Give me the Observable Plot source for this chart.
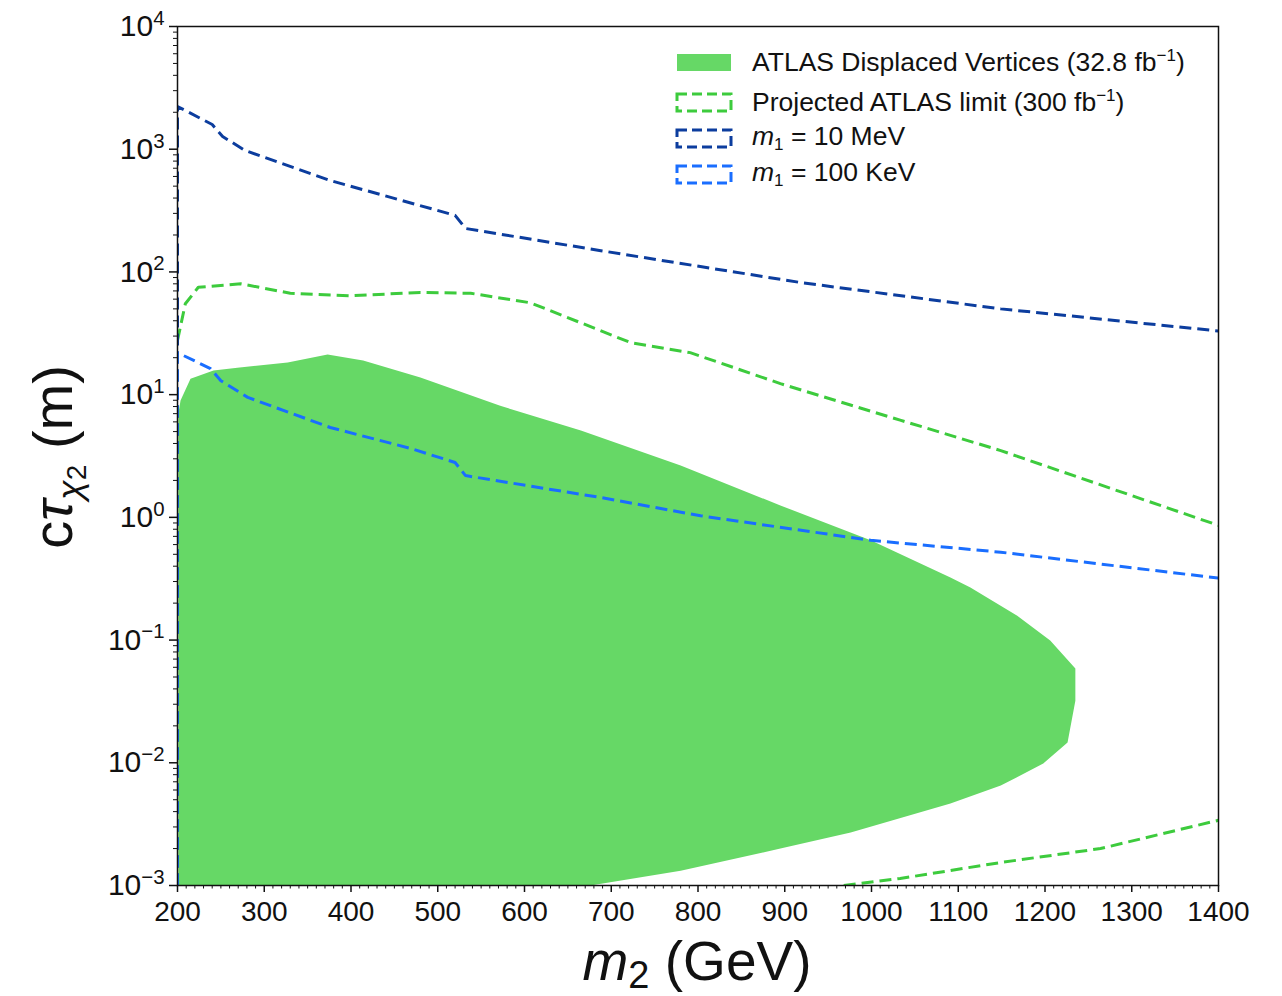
<!DOCTYPE html>
<html>
<head>
<meta charset="utf-8">
<script src="https://cdn.jsdelivr.net/npm/d3@7"></script>
<script src="https://cdn.jsdelivr.net/npm/@observablehq/plot@0.6"></script>
<style>
  html, body { margin: 0; padding: 0; background: #fff; }
  #chart { width: 1282px; height: 996px; }
  svg { font-family: "Liberation Sans", Arial, Helvetica, sans-serif; }
</style>
</head>
<body>
<div id="chart"></div>
<script>
// ---- tick definitions ----
const xTicks = [200, 300, 400, 500, 600, 700, 800, 900, 1000, 1100, 1200, 1300, 1400];
const yTickExps = [-3, -2, -1, 0, 1, 2, 3, 4];

// ---- ATLAS displaced vertices (32.8 fb^-1) excluded region: boundary polygon ----
const atlasX = [201, 201, 203.5, 215, 241.5, 269, 327, 373, 414, 480, 572, 665, 780, 895, 999, 1091, 1114, 1168, 1206, 1235, 1235, 1226, 1198, 1149, 1091, 976, 895, 780, 676];
const atlasY = [1e-3, 7.0, 8.95, 13.5, 15.7, 16.6, 18.3, 21.2, 19.0, 13.8, 8.1, 5.1, 2.64, 1.25, 0.65, 0.323, 0.268, 0.158, 0.099, 0.0586, 0.0321, 0.0146, 0.00985, 0.00652, 0.00465, 0.0027, 0.002, 0.00132, 0.001];

// ---- Projected ATLAS limit (300 fb^-1): upper and lower contours ----
const projUpperX = [200, 209, 224, 273, 330, 399, 480, 538, 607, 722, 791, 895, 1033, 1149, 1400];
const projUpperY = [27.6, 55, 75, 80, 67, 64, 68, 67, 56, 26.6, 22, 12.3, 6.2, 3.5, 0.86];
const projLowerX = [968, 1033, 1149, 1264, 1400];
const projLowerY = [1.0e-3, 1.14e-3, 1.54e-3, 2.0e-3, 3.4e-3];

// ---- m1 = 10 MeV ----
const m10MeVX = [200, 200, 240, 252, 278, 376, 520, 532, 688, 918, 1149, 1400];
const m10MeVY = [1e-3, 2230, 1590, 1270, 975, 556, 289, 226, 149, 82, 50, 33];

// ---- m1 = 100 KeV ----
const m100KeVX = [200, 200, 238, 250, 281, 376, 469, 520, 532, 688, 803, 999, 1149, 1400];
const m100KeVY = [1e-3, 22, 16.3, 13.0, 9.5, 5.4, 3.64, 2.80, 2.19, 1.45, 1.03, 0.65, 0.52, 0.32];

// ---- styles ----
const cFill = "#66D866";
const cProj = "#3DCB3D";
const cDark = "#0C3D9E";
const cLight = "#1A6EFF";
const dash = "12,6";
const lw = 3;

const toRows = (X, Y) => X.map((x, i) => ({x, y: Y[i]}));

const yMajor = yTickExps.map(e => Math.pow(10, e));
const yMinor = [];
for (let e = -3; e < 4; e++) for (let k = 2; k <= 9; k++) yMinor.push(k * Math.pow(10, e));
const xMinor = d3.range(200, 1401, 10).filter(v => v % 100 !== 0);

const svg = Plot.plot({
  width: 1282,
  height: 996,
  marginLeft: 177,
  marginRight: 64,
  marginTop: 26,
  marginBottom: 111,
  style: {fontFamily: "Liberation Sans, Arial, Helvetica, sans-serif", fontSize: "28px", color: "#111", background: "#fff"},
  x: {domain: [200, 1400], label: null},
  y: {type: "log", domain: [1e-3, 1e4], label: null},
  marks: [
    Plot.line(toRows(atlasX, atlasY), {x: "x", y: "y", fill: cFill, stroke: "none", clip: true}),
    Plot.line(toRows(projUpperX, projUpperY), {x: "x", y: "y", stroke: cProj, strokeWidth: lw, strokeDasharray: dash, strokeLinecap: "butt", clip: true}),
    Plot.line(toRows(projLowerX, projLowerY), {x: "x", y: "y", stroke: cProj, strokeWidth: lw, strokeDasharray: dash, strokeLinecap: "butt", clip: true}),
    Plot.line(toRows(m10MeVX, m10MeVY), {x: "x", y: "y", stroke: cDark, strokeWidth: lw, strokeDasharray: dash, strokeLinecap: "butt", clip: true}),
    Plot.line(toRows(m100KeVX, m100KeVY), {x: "x", y: "y", stroke: cLight, strokeWidth: lw, strokeDasharray: dash, strokeLinecap: "butt", clip: true}),
    Plot.frame({stroke: "#111", strokeWidth: 1.5}),
    Plot.axisX({ticks: xTicks, tickSize: 7, tickPadding: 9, tickFormat: d => String(d), fontSize: 28, stroke: "#111", strokeWidth: 1.5}),
    Plot.axisX({ticks: xMinor, tickSize: 3.5, tickFormat: () => "", stroke: "#111"}),
    Plot.axisY({ticks: yMajor, tickSize: 8, tickPadding: 5, tickFormat: d => "10^" + Math.round(Math.log10(d)), fontSize: 30, stroke: "#111", strokeWidth: 1.5}),
    Plot.axisY({ticks: yMinor, tickSize: 4, tickFormat: () => "", stroke: "#111"})
  ]
});

document.getElementById("chart").appendChild(svg);

const s = d3.select(svg);

// superscript exponents for log tick labels
s.selectAll('g[aria-label="y-axis tick label"] text').each(function () {
  const t = this.textContent;
  const m = t.match(/^10\^(-?\d+)$/);
  if (m) {
    this.textContent = "";
    const el = d3.select(this);
    el.append("tspan").text("10");
    el.append("tspan").attr("dy", "-0.55em").attr("font-size", "0.68em").text(m[1].replace("-", "\u2212"));
  }
});

// axis titles
const xt = s.append("text")
  .attr("x", 697).attr("y", 980)
  .attr("text-anchor", "middle")
  .attr("font-size", 55)
  .attr("fill", "#111");
xt.append("tspan").attr("font-style", "italic").text("m");
xt.append("tspan").attr("font-size", 38).attr("dy", 8).text("2");
xt.append("tspan").attr("dy", -8).text(" (GeV)");

const yt = s.append("text")
  .attr("transform", "translate(72,457) rotate(-90)")
  .attr("text-anchor", "middle")
  .attr("font-size", 56)
  .attr("fill", "#111");
yt.append("tspan").text("c");
yt.append("tspan").attr("font-style", "italic").text("\u03C4");
yt.append("tspan").attr("font-style", "italic").attr("font-size", 36).attr("dy", 10).text("\u03C7");
yt.append("tspan").attr("font-size", 28).attr("dy", 4).text("2");
yt.append("tspan").attr("dy", -14).text(" (m)");

// legend
const lg = s.append("g").attr("font-size", 26.5).attr("fill", "#111").attr("text-anchor", "start");
const hx = 677, hw = 54, tx = 752;
const rows = [
  {cy: 62, kind: "patch", color: cFill},
  {cy: 102, kind: "dash", color: cProj},
  {cy: 138, kind: "dash", color: cDark},
  {cy: 174, kind: "dash", color: cLight}
];
rows.forEach(r => {
  if (r.kind === "patch") {
    lg.append("rect").attr("x", hx).attr("y", r.cy - 8).attr("width", hw).attr("height", 17).attr("fill", r.color);
  } else {
    lg.append("rect").attr("x", hx).attr("y", r.cy - 8).attr("width", hw).attr("height", 17)
      .attr("fill", "none").attr("stroke", r.color).attr("stroke-width", 3).attr("stroke-dasharray", "10,5");
  }
});
function addText(cy, parts) {
  const t = lg.append("text").attr("x", tx).attr("y", cy + 9).attr("text-anchor", "start");
  parts.forEach(p => {
    const ts = t.append("tspan").text(p.t);
    if (p.italic) ts.attr("font-style", "italic");
    if (p.size) ts.attr("font-size", p.size);
    if (p.dy) ts.attr("dy", p.dy);
  });
}
addText(62, [{t: "ATLAS Displaced Vertices (32.8 fb"}, {t: "\u22121", size: 17, dy: -10}, {t: ")", dy: 10}]);
addText(102, [{t: "Projected ATLAS limit (300 fb"}, {t: "\u22121", size: 17, dy: -10}, {t: ")", dy: 10}]);
addText(136, [{t: "m", italic: true}, {t: "1", size: 17, dy: 5}, {t: " = 10 MeV", dy: -5}]);
addText(172, [{t: "m", italic: true}, {t: "1", size: 17, dy: 5}, {t: " = 100 KeV", dy: -5}]);
</script>
</body>
</html>
